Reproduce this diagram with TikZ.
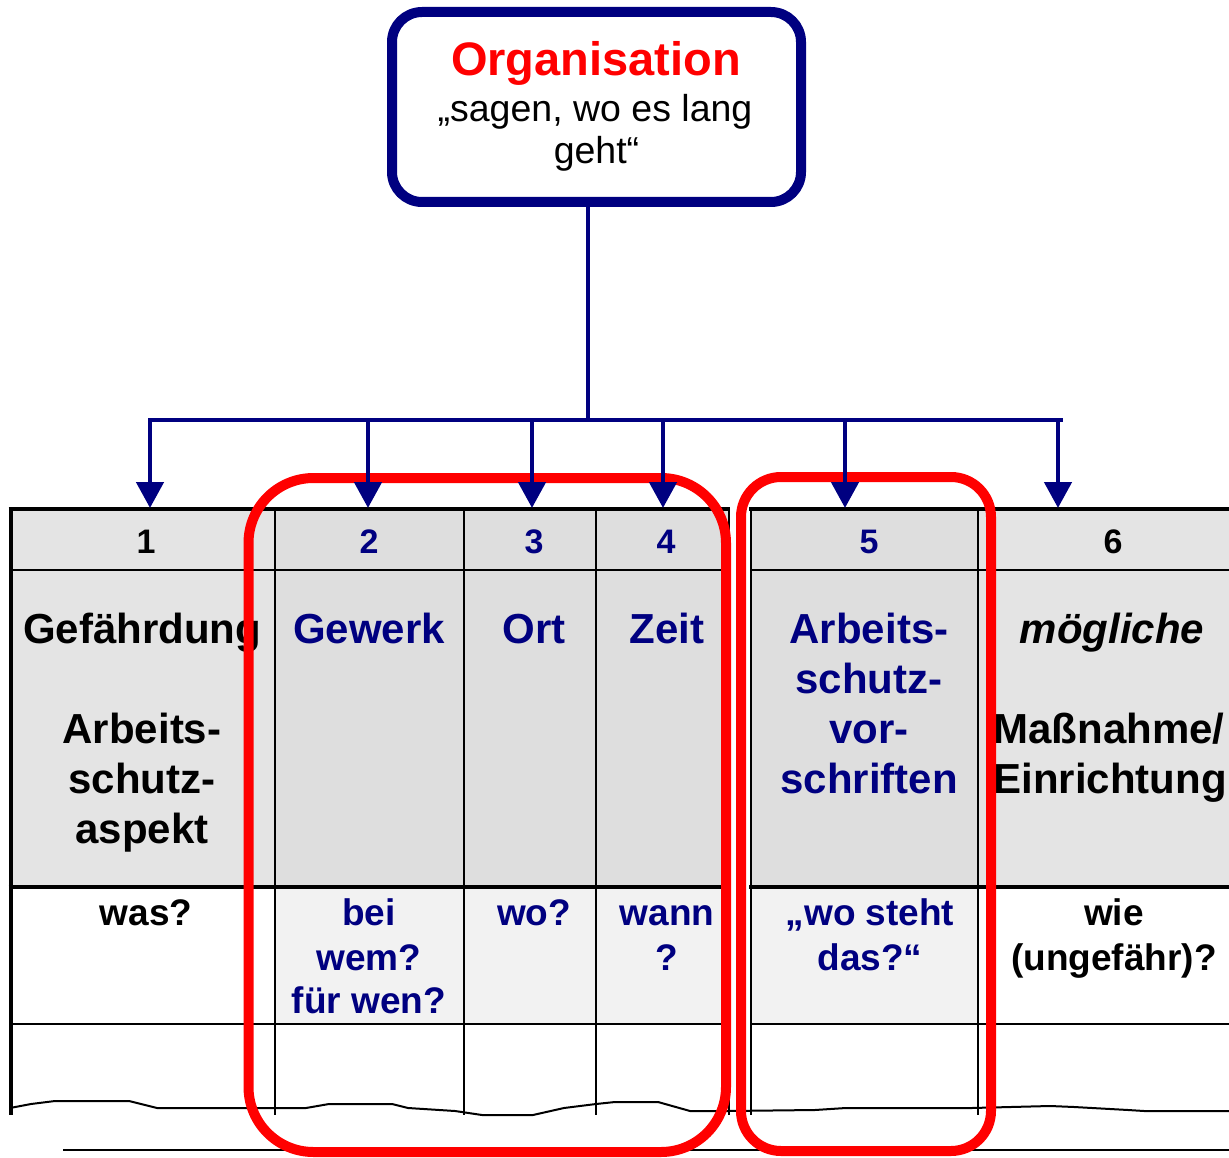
\documentclass[tikz,border=0pt]{standalone}
\usepackage{fontspec}
\setmainfont{Liberation Sans}
\usetikzlibrary{arrows.meta}
\definecolor{navyc}{RGB}{0,0,128}
\definecolor{redc}{RGB}{255,0,0}
\definecolor{hdA}{RGB}{228,228,228}
\definecolor{hdB}{RGB}{222,222,222}
\definecolor{rowC}{RGB}{242,242,242}
\begin{document}
\begin{tikzpicture}[x=1pt,y=-1pt,
  txt/.style={anchor=base, inner sep=0pt, outer sep=0pt},
  orgt/.style={txt, font=\fontsize{47}{56}\selectfont\bfseries, text=redc},
  subt/.style={txt, font=\fontsize{37.5}{42}\selectfont},
  num/.style={txt, font=\fontsize{34}{40}\selectfont\bfseries},
  big/.style={txt, font=\fontsize{42}{50}\selectfont\bfseries},
  qs/.style={txt, font=\fontsize{37}{44}\selectfont\bfseries},
  bordA/.style={line width=4pt},
  gridl/.style={line width=2pt},
  conn/.style={draw=navyc, line width=4.7pt, -{Triangle[length=26pt,width=27pt]}},
  barl/.style={draw=navyc, line width=4.7pt},
  hl/.style={draw=redc, line width=10pt}
]
\useasboundingbox (0,0) rectangle (1229,1158);

% table fills
\fill[hdA] (10,509) rectangle (275,887);
\fill[hdB] (275,509) rectangle (729,887);
\fill[hdB] (751,509) rectangle (978,887);
\fill[hdA] (978,509) rectangle (1229,887);
\fill[rowC] (275,887) rectangle (729,1024);
\fill[rowC] (751,887) rectangle (978,1024);

% grid
\draw[gridl] (10,570) -- (729,570) (750,570) -- (1229,570);
\draw[gridl] (10,1024) -- (729,1024) (750,1024) -- (1229,1024);
\foreach \x in {275,464,596,728.5,751,978} \draw[gridl] (\x,509) -- (\x,1115);
\draw[bordA] (10.5,507) -- (10.5,1115);
\draw[bordA] (8.5,508.7) -- (730,508.7) (749,508.7) -- (1229,508.7);
\draw[bordA] (8.5,887) -- (730,887) (749,887) -- (1229,887);

% torn edge
\draw[gridl, line join=round] (10,1108) -- (31,1104) -- (55,1101) -- (129,1101) -- (157,1108) -- (306,1108) -- (329,1104) -- (392,1104) -- (408,1108) -- (455,1111) -- (482,1115) -- (533,1115) -- (564,1108) -- (596,1104) -- (615,1102) -- (658,1102) -- (690,1111) -- (729,1111) -- (815,1110) -- (846,1108) -- (972,1108) -- (1050,1106) -- (1074,1107) -- (1128,1110) -- (1144,1111) -- (1229,1111);
\draw[gridl] (63,1150) -- (1229,1150);

% header numbers
\node[num] (n1) at (146,553) {1};
\node[num, text=navyc] (n2) at (369,553) {2};
\node[num, text=navyc] (n3) at (534,553) {3};
\node[num, text=navyc] (n4) at (666,553) {4};
\node[num, text=navyc] (n5) at (869,553) {5};
\node[num] (n6) at (1113,553) {6};

% column 1
\node[big] (c1a) at (142,643) {Gefährdung};
\node[big] (c1b) at (142,743) {Arbeits-};
\node[big] (c1c) at (142,793) {schutz-};
\node[big] (c1d) at (142,843) {aspekt};
% columns 2-4
\node[big, text=navyc] (c2a) at (369,643) {Gewerk};
\node[big, text=navyc] (c3a) at (534,643) {Ort};
\node[big, text=navyc] (c4a) at (667,643) {Zeit};
% column 5
\node[big, text=navyc] (c5a) at (869,643) {Arbeits-};
\node[big, text=navyc] (c5b) at (869,693) {schutz-};
\node[big, text=navyc] (c5c) at (869,743) {vor-};
\node[big, text=navyc] (c5d) at (869,793) {schriften};
% column 6
\node[big, font=\fontsize{42}{50}\selectfont\bfseries\itshape] (c6a) at (1112,643) {mögliche};
\node[big] (c6b) at (1109,743) {Maßnahme/};
\node[big] (c6c) at (1110,793) {Einrichtung};

% question row
\node[qs] (q1) at (146,925) {was?};
\node[qs, text=navyc] (q2a) at (369,925) {bei};
\node[qs, text=navyc] (q2b) at (369,970) {wem?};
\node[qs, text=navyc] (q2c) at (369,1013) {für wen?};
\node[qs, text=navyc] (q3) at (534,925) {wo?};
\node[qs, text=navyc] (q4a) at (667,925) {wann};
\node[qs, text=navyc] (q4b) at (667,970) {?};
\node[qs, text=navyc] (q5a) at (870,925) {„wo steht};
\node[qs, text=navyc] (q5b) at (870,970) {das?“};
\node[qs] (q6a) at (1114,925) {wie};
\node[qs] (q6b) at (1114,970) {(ungefähr)?};

% red highlight frames
\draw[hl, rounded corners=65pt] (248.5,478) rectangle (726,1152);
\draw[hl, rounded corners=40pt] (741,477) rectangle (991,1151);

% top box
\node[draw=navyc, line width=10pt, fill=white, rounded corners=30pt,
      minimum width=409pt, minimum height=190pt, inner sep=0pt] (org) at (596.5,107) {};
\node[orgt] (ot1) at (596,76) {Organisation};
\node[subt] (ot2) at (595,122) {„sagen, wo es lang};
\node[subt] (ot3) at (596.5,164) {geht“};

% connectors
\coordinate (bj) at (588,420);
\coordinate (bl) at (148,420);
\coordinate (br) at (1063,420);
\draw[barl] (org.south -| bj) -- ([yshift=2pt]bj);
\draw[barl] (bl) -- (br);
\foreach \i/\x in {1/150,2/368,3/532,4/663,5/845,6/1058}{
  \coordinate (b\i) at (\x,420);
  \coordinate (t\i) at (\x,508);
  \draw[conn] (b\i) -- (t\i);
}
\end{tikzpicture}
\end{document}
